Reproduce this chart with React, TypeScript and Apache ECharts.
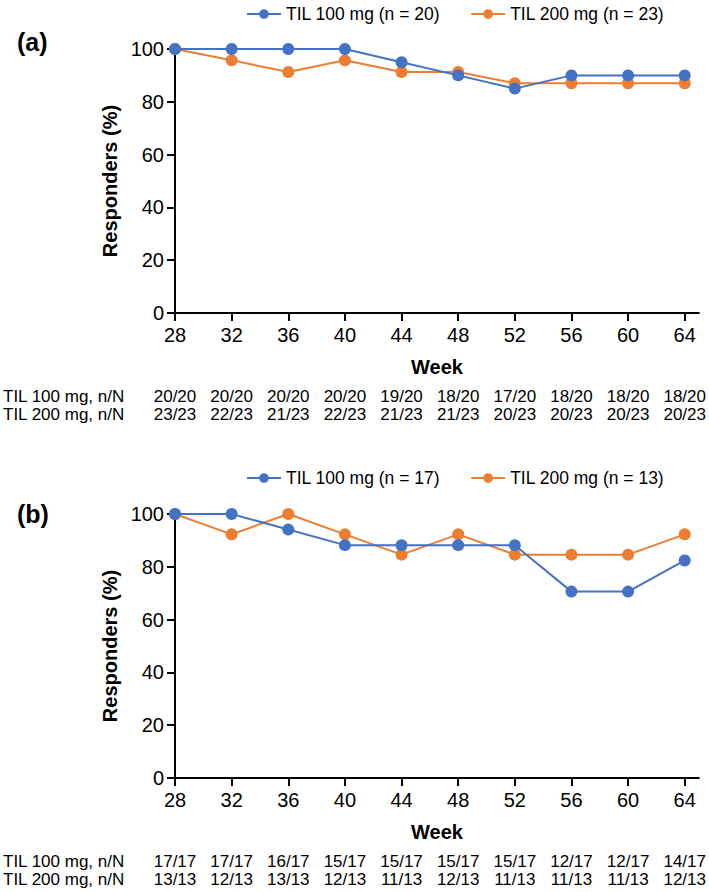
import React, { useEffect, useRef } from "react";
import * as echarts from "echarts";

// semanas del eje x
const weeks = [28, 32, 36, 40, 44, 48, 52, 56, 60, 64];

// panel (a): % respondedores
const a100 = [100, 100, 100, 100, 95, 90, 85, 90, 90, 90];
const a200 = [100, 95.7, 91.3, 95.7, 91.3, 91.3, 87, 87, 87, 87];
const a100nN = ["20/20", "20/20", "20/20", "20/20", "19/20", "18/20", "17/20", "18/20", "18/20", "18/20"];
const a200nN = ["23/23", "22/23", "21/23", "22/23", "21/23", "21/23", "20/23", "20/23", "20/23", "20/23"];

// panel (b)
const b100 = [100, 100, 94.1, 88.2, 88.2, 88.2, 88.2, 70.6, 70.6, 82.4];
const b200 = [100, 92.3, 100, 92.3, 84.6, 92.3, 84.6, 84.6, 84.6, 92.3];
const b100nN = ["17/17", "17/17", "16/17", "15/17", "15/17", "15/17", "15/17", "12/17", "12/17", "14/17"];
const b200nN = ["13/13", "12/13", "13/13", "12/13", "11/13", "12/13", "11/13", "11/13", "11/13", "12/13"];

const yTicks = [0, 20, 40, 60, 80, 100];

const legendA = ["TIL 100 mg (n = 20)", "TIL 200 mg (n = 23)"];
const legendB = ["TIL 100 mg (n = 17)", "TIL 200 mg (n = 13)"];
const rowLabels = ["TIL 100 mg, n/N", "TIL 200 mg, n/N"];

const BLUE = "#4472C4";
const ORANGE = "#ED7D31";
const FONT = "'Liberation Sans', Arial, sans-serif";

const App: React.FC = () => {
  const chartRef = useRef<HTMLDivElement | null>(null);

  useEffect(() => {
    document.body.style.margin = "0";
    if (!chartRef.current) return;
    const chart = echarts.init(chartRef.current, undefined, { renderer: "svg" });

    const grids = [
      { left: 175, top: 49, width: 526, height: 264 },
      { left: 175, top: 514, width: 526, height: 264 },
    ];

    const mainX = (gi: number) => ({
      type: "value" as const,
      gridIndex: gi,
      min: 28,
      max: 65,
      name: "Week",
      nameLocation: "middle" as const,
      nameGap: 44,
      nameTextStyle: { fontFamily: FONT, fontSize: 20, fontWeight: "bold", color: "#000" },
      axisLine: { lineStyle: { color: "#000", width: 2 } },
      axisTick: { length: 8, lineStyle: { color: "#000", width: 2 }, customValues: weeks },
      axisLabel: { fontFamily: FONT, fontSize: 20, color: "#000", margin: 12, customValues: weeks },
      splitLine: { show: false },
    });

    // filas de n/N dibujadas como ejes extra sin línea
    const tableX = (gi: number, labels: string[], offset: number) => ({
      type: "value" as const,
      gridIndex: gi,
      min: 28,
      max: 65,
      position: "bottom" as const,
      offset,
      axisLine: { show: false },
      axisTick: { show: false },
      splitLine: { show: false },
      axisLabel: {
        fontFamily: FONT,
        fontSize: 17,
        color: "#000",
        margin: 0,
        customValues: weeks,
        formatter: (v: number) => labels[weeks.indexOf(v)] ?? "",
      },
    });

    const yAx = (gi: number) => ({
      type: "value" as const,
      gridIndex: gi,
      min: 0,
      max: 100,
      interval: 20,
      name: "Responders (%)",
      nameLocation: "middle" as const,
      nameGap: 53,
      nameTextStyle: { fontFamily: FONT, fontSize: 20, fontWeight: "bold", color: "#000" },
      axisLine: { show: true, lineStyle: { color: "#000", width: 2 } },
      axisTick: { show: true, length: 8, lineStyle: { color: "#000", width: 2 }, customValues: yTicks },
      axisLabel: { fontFamily: FONT, fontSize: 20, color: "#000", margin: 11, customValues: yTicks },
      splitLine: { show: false },
    });

    const line = (name: string, vals: number[], color: string, gi: number) => ({
      name,
      type: "line" as const,
      xAxisIndex: gi * 3,
      yAxisIndex: gi,
      data: weeks.map((w, i) => [w, vals[i]]),
      symbol: "circle",
      symbolSize: 12,
      lineStyle: { color, width: 2 },
      itemStyle: { color },
    });

    const legend = (data: string[], top: number) => ({
      data,
      top,
      left: 241,
      itemWidth: 34,
      itemHeight: 12,
      itemGap: 30,
      textStyle: { fontFamily: FONT, fontSize: 17.5, color: "#000" },
    });

    const rowText = (text: string, y: number) => ({
      type: "text" as const,
      left: 3,
      top: y - 9,
      style: { text, font: `17px ${FONT}`, fill: "#000" },
    });

    const option: echarts.EChartsOption = {
      animation: false,
      backgroundColor: "#fff",
      grid: grids,
      legend: [legend(legendA, 0), legend(legendB, 464)],
      xAxis: [
        mainX(0),
        tableX(0, a100nN, 75),
        tableX(0, a200nN, 93),
        mainX(1),
        tableX(1, b100nN, 75),
        tableX(1, b200nN, 93),
      ],
      yAxis: [yAx(0), yAx(1)],
      series: [
        line(legendA[1], a200, ORANGE, 0),
        line(legendA[0], a100, BLUE, 0),
        line(legendB[1], b200, ORANGE, 1),
        line(legendB[0], b100, BLUE, 1),
      ],
      graphic: [
        { type: "text", left: 17, top: 29, style: { text: "(a)", font: `bold 25px ${FONT}`, fill: "#000" } },
        { type: "text", left: 17, top: 501, style: { text: "(b)", font: `bold 25px ${FONT}`, fill: "#000" } },
        rowText(rowLabels[0], 397),
        rowText(rowLabels[1], 415),
        rowText(rowLabels[0], 862),
        rowText(rowLabels[1], 880),
      ],
    };

    chart.setOption(option);
    return () => chart.dispose();
  }, []);

  return <div ref={chartRef} style={{ width: "709px", height: "892px" }} />;
};

export default App;
